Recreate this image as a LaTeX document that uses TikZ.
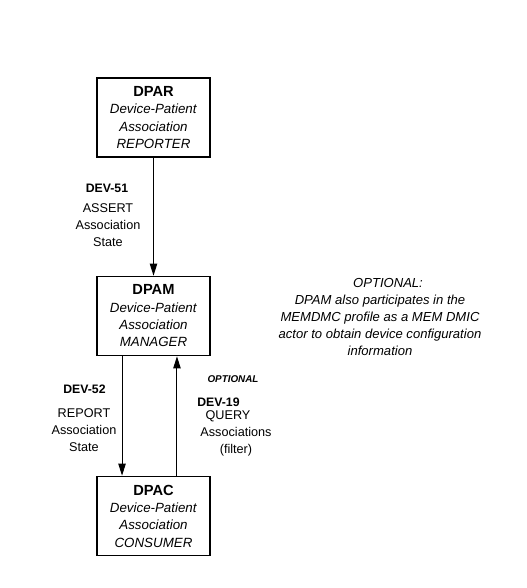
\documentclass[tikz,border=0pt]{standalone}
\usepackage{fontspec}
\setsansfont{Liberation Sans}
\usetikzlibrary{arrows.meta}

\begin{document}
\begin{tikzpicture}[x=0.75pt, y=-0.75pt, font=\sffamily, line width=0.75pt,
    actor/.style={draw, line width=1.2pt, minimum width=84.75pt, minimum height=59.25pt,
      inner sep=0pt, align=center, font=\sffamily\fontsize{10}{13}\selectfont},
    txname/.style={font=\sffamily\bfseries\fontsize{9.2}{11}\selectfont},
    txtext/.style={align=center, font=\sffamily\fontsize{9.5}{12.75}\selectfont},
    flow/.style={-{Triangle[length=9pt, width=5.5pt]}}]
  \useasboundingbox (0,0) rectangle (527,588);

  % the three actors, stacked
  \node[actor] (dpar) at (153.5,117.5)
    {{\bfseries\fontsize{11}{13}\selectfont DPAR}\\ \textit{Device-Patient}\\ \textit{Association}\\ \textit{REPORTER}};
  \node[actor] (dpam) at (153.5,316)
    {{\bfseries\fontsize{11}{13}\selectfont DPAM}\\ \textit{Device-Patient}\\ \textit{Association}\\ \textit{MANAGER}};
  \node[actor] (dpac) at (153.5,516)
    {{\bfseries\fontsize{11}{13}\selectfont DPAC}\\ \textit{Device-Patient}\\ \textit{Association}\\ \textit{CONSUMER}};

  % DEV-51: reporter -> manager
  \draw[flow] (dpar.south) -- (dpam.north);
  \node[txname] (dev51) at (107,188) {DEV-51};
  \node[txtext] (assert) at (108,225) {ASSERT\\ Association\\ State};

  % DEV-52: manager -> consumer
  \draw[flow] ([xshift=-23.6pt]dpam.south) -- ([xshift=-23.6pt]dpac.north);
  \node[txname] (dev52) at (84.5,389) {DEV-52};
  \node[txtext] (report) at (84,430) {REPORT\\ Association\\ State};

  % DEV-19 (optional): consumer -> manager
  \draw[flow] ([xshift=17.6pt]dpac.north) -- ([xshift=17.6pt]dpam.south);
  \node[font=\sffamily\bfseries\itshape\fontsize{7.4}{9}\selectfont] (opt19) at (233,379) {OPTIONAL};
  \node[txname] (dev19) at (218.5,402) {DEV-19};
  \node[txtext] (query) at (236,433) {QUERY\hspace*{12pt}\\ Associations\\ (filter)};

  % note on the right
  \node[align=center, font=\sffamily\itshape\fontsize{9.8}{12.75}\selectfont] (note) at (380,317)
    {\hspace*{12pt}OPTIONAL:\\ DPAM also participates in the\\ MEMDMC profile as a MEM DMIC\\
     actor to obtain device configuration\\ information};
\end{tikzpicture}
\end{document}
